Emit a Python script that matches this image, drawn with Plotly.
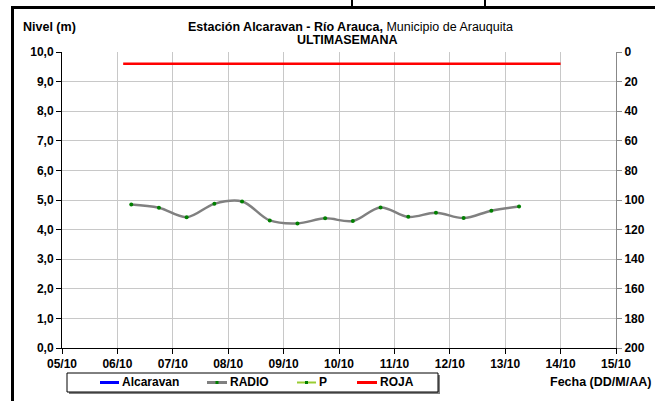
import plotly.graph_objects as go

# ---- data ----
radio_dates = [
    "2015-10-06 06:00", "2015-10-06 18:00", "2015-10-07 06:00", "2015-10-07 18:00",
    "2015-10-08 06:00", "2015-10-08 18:00", "2015-10-09 06:00", "2015-10-09 18:00",
    "2015-10-10 06:00", "2015-10-10 18:00", "2015-10-11 06:00", "2015-10-11 18:00",
    "2015-10-12 06:00", "2015-10-12 18:00", "2015-10-13 06:00",
]
radio_levels = [4.85, 4.74, 4.42, 4.87, 4.95, 4.31, 4.21, 4.38, 4.29, 4.75,
                4.43, 4.57, 4.39, 4.64, 4.78]
roja_dates = ["2015-10-06 02:30", "2015-10-14 00:00"]
roja_levels = [9.6, 9.6]
alcaravan_dates = []
alcaravan_levels = []
p_dates = []
p_values = []

x_range = ["2015-10-05", "2015-10-15"]
y_range = [0, 10]
y2_range = [200, 0]

legend_names = ["Alcaravan", "RADIO", "P", "ROJA"]
legend_colors = ["#0000ff", "#808080", "#99cc33", "#ff0000"]

FONT = "Liberation Sans"
BOLD = dict(family=FONT, size=12, color="black", weight="bold")

fig = go.Figure()
fig.add_trace(go.Scatter(x=alcaravan_dates, y=alcaravan_levels, name="Alcaravan",
                         mode="lines", line=dict(color="#0000ff", width=3),
                         showlegend=False))
fig.add_trace(go.Scatter(x=radio_dates, y=radio_levels, name="RADIO",
                         mode="lines+markers",
                         line=dict(color="#808080", width=2.5, shape="spline", smoothing=1),
                         marker=dict(color="#008000", size=4, symbol="circle"),
                         showlegend=False))
fig.add_trace(go.Scatter(x=p_dates, y=p_values, name="P", yaxis="y2",
                         mode="lines+markers", line=dict(color="#99cc33", width=2),
                         marker=dict(color="#008000", size=4), showlegend=False))
fig.add_trace(go.Scatter(x=roja_dates, y=roja_levels, name="ROJA",
                         mode="lines", line=dict(color="#ff0000", width=2.5),
                         showlegend=False))

L, R, T, B = 62, 39, 52, 53
W, H = 655, 401
pw, ph = W - L - R, H - T - B


def px(x):
    return (x - L) / pw


def py(y):
    return (H - B - y) / ph


fig.update_layout(
    width=W, height=H,
    margin=dict(l=L, r=R, t=T, b=B, autoexpand=False),
    paper_bgcolor="white", plot_bgcolor="white",
    separators=",.",
    hovermode=False,
    showlegend=False,
    xaxis=dict(type="date", range=x_range, dtick=86400000, tickformat="%d/%m",
               showgrid=True, gridcolor="#c8c8c8", gridwidth=1,
               showline=True, linecolor="black", linewidth=1,
               ticks="outside", ticklen=5, tickcolor="black",
               tickfont=BOLD, zeroline=False),
    yaxis=dict(range=y_range, dtick=1, tickformat=".1f",
               showgrid=True, gridcolor="#c8c8c8", gridwidth=1,
               showline=True, linecolor="black", linewidth=1,
               ticks="outside", ticklen=5, tickcolor="black",
               tickfont=BOLD, zeroline=False),
    yaxis2=dict(range=y2_range, dtick=20, overlaying="y", side="right",
                showgrid=False, showline=True, linecolor="#888888", linewidth=1,
                ticks="outside", ticklen=5, tickcolor="#888888",
                tickfont=BOLD, zeroline=False),
)

shapes = []
annotations = []

# outer frame (black, thick) left and top
shapes.append(dict(type="line", xref="paper", yref="paper",
                   x0=px(12.5), x1=px(12.5), y0=py(7), y1=py(402),
                   line=dict(color="black", width=3)))
shapes.append(dict(type="line", xref="paper", yref="paper",
                   x0=px(11), x1=px(656), y0=py(7.5), y1=py(7.5),
                   line=dict(color="black", width=3)))
# small marks above the frame
for mx in (352, 485):
    shapes.append(dict(type="line", xref="paper", yref="paper",
                       x0=px(mx), x1=px(mx), y0=py(0), y1=py(6),
                       line=dict(color="black", width=2)))

TF = dict(family=FONT, size=12.5, color="black")
# title
annotations.append(dict(xref="paper", yref="paper", x=px(350), y=py(27),
                        xanchor="center", yanchor="middle", showarrow=False,
                        text="<b>Estación Alcaravan - Río Arauca,</b> Municipio de Arauquita",
                        font=TF))
annotations.append(dict(xref="paper", yref="paper", x=px(347), y=py(40),
                        xanchor="center", yanchor="middle", showarrow=False,
                        text="<b>ULTIMASEMANA</b>", font=TF))
# axis titles
annotations.append(dict(xref="paper", yref="paper", x=px(21), y=py(27),
                        xanchor="left", yanchor="middle", showarrow=False,
                        text="<b>Nivel (m)</b>", font=TF))
annotations.append(dict(xref="paper", yref="paper", x=px(653), y=py(382),
                        xanchor="right", yanchor="middle", showarrow=False,
                        text="<b>Fecha (DD/M/AA)</b>", font=TF))

# manual legend box
shapes.append(dict(type="rect", xref="paper", yref="paper",
                   x0=px(69), x1=px(440), y0=py(394), y1=py(375),
                   line=dict(color="#808080", width=0), fillcolor="#808080"))
shapes.append(dict(type="rect", xref="paper", yref="paper",
                   x0=px(67), x1=px(438), y0=py(392), y1=py(373),
                   line=dict(color="black", width=1), fillcolor="white"))
leg_y = 382.5
leg_lines = [(100, 119), (207, 227), (297, 316), (357, 377)]
leg_text_x = [120, 228, 317, 378]
for i, name in enumerate(legend_names):
    x0, x1 = leg_lines[i]
    shapes.append(dict(type="line", xref="paper", yref="paper",
                       x0=px(x0), x1=px(x1), y0=py(leg_y), y1=py(leg_y),
                       line=dict(color=legend_colors[i], width=3 if i != 2 else 2)))
    if name in ("RADIO", "P"):
        cx = (x0 + x1) / 2
        shapes.append(dict(type="rect", xref="paper", yref="paper",
                           x0=px(cx - 1.5), x1=px(cx + 1.5),
                           y0=py(leg_y + 1.5), y1=py(leg_y - 1.5),
                           line=dict(width=0), fillcolor="#008000"))
    annotations.append(dict(xref="paper", yref="paper", x=px(leg_text_x[i]), y=py(leg_y),
                            xanchor="left", yanchor="middle", showarrow=False,
                            text="<b>" + name + "</b>",
                            font=dict(family=FONT, size=12, color="black")))

fig.update_layout(shapes=shapes, annotations=annotations)
fig.write_html("out.html", config={"displayModeBar": False, "staticPlot": True})

# remove default body margin so the figure sits at the page's top-left corner
with open("out.html", encoding="utf-8") as f:
    html = f.read()
html = html.replace("<body>", '<body style="margin:0;padding:0;overflow:hidden">', 1)
html = html.replace("<head>", "<head><style>html,body{margin:0;padding:0;}</style>", 1)
with open("out.html", "w", encoding="utf-8") as f:
    f.write(html)
